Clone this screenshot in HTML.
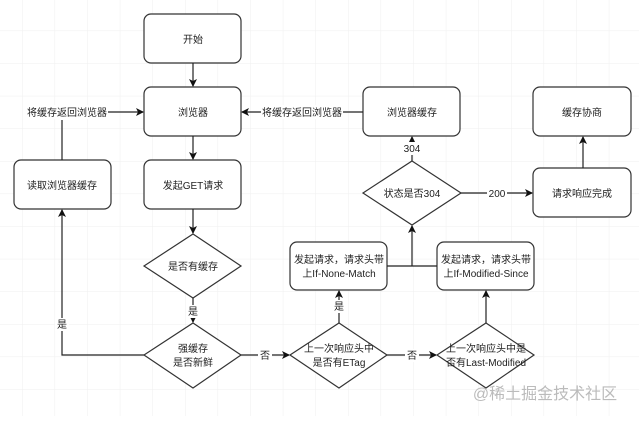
<!DOCTYPE html>
<html><head><meta charset="utf-8"><style>
html,body{margin:0;padding:0;background:#fff;}
svg text{font-family:"Liberation Sans","Noto Sans CJK SC",sans-serif;font-size:10px;fill:#222;}
</style></head><body>
<svg width="639" height="416" viewBox="0 0 639 416" xmlns="http://www.w3.org/2000/svg">
<defs>
<pattern id="g" x="22" y="-2" width="32.6" height="32.6" patternUnits="userSpaceOnUse">
<path d="M0 0V32.6M0 0H32.6" stroke="#efefef" stroke-width="1" fill="none"/>
</pattern>
<marker id="a" markerWidth="8" markerHeight="8" refX="7" refY="4" orient="auto" markerUnits="userSpaceOnUse">
<path d="M0 0L8 4L0 8L2 4Z" fill="#111"/>
</marker>
</defs>
<rect width="639" height="416" fill="url(#g)"/>
<g fill="#fff" stroke="#333" stroke-width="1.2">
<rect x="144" y="14" width="97" height="49" rx="7"/>
<rect x="144" y="87" width="97" height="49" rx="7"/>
<rect x="144" y="160" width="97" height="49" rx="7"/>
<rect x="14" y="160" width="97" height="49" rx="7"/>
<rect x="363" y="87" width="97" height="49" rx="7"/>
<rect x="533" y="87" width="98" height="49" rx="7"/>
<rect x="533" y="168" width="98" height="49" rx="7"/>
<rect x="290" y="242" width="97" height="48" rx="7"/>
<rect x="437" y="242" width="97" height="48" rx="7"/>
<path d="M193 234L241 266L193 298L144 266Z"/>
<path d="M193 323L241 355L193 388L144 355Z"/>
<path d="M339 323L387 355L339 388L290 355Z"/>
<path d="M486 323L534 355L486 388L437 355Z"/>
<path d="M412 161L461 193L412 225L363 193Z"/>
</g>
<g stroke="#222" stroke-width="1.2" fill="none">
<path d="M193 63V86" marker-end="url(#a)"/>
<path d="M193 136V159" marker-end="url(#a)"/>
<path d="M193 209V233" marker-end="url(#a)"/>
<path d="M193 298V322" marker-end="url(#a)"/>
<path d="M62 160V120"/>
<path d="M108 112H143" marker-end="url(#a)"/>
<path d="M144 355H62V210" marker-end="url(#a)"/>
<path d="M241 355H289" marker-end="url(#a)"/>
<path d="M387 355H436" marker-end="url(#a)"/>
<path d="M339 323V291" marker-end="url(#a)"/>
<path d="M486 323V291" marker-end="url(#a)"/>
<path d="M387 266H437M412 266V226" marker-end="url(#a)"/>
<path d="M412 161V137" marker-end="url(#a)"/>
<path d="M363 112H242" marker-end="url(#a)"/>
<path d="M461 193H532" marker-end="url(#a)"/>
<path d="M583 168V137" marker-end="url(#a)"/>
</g>
<g text-anchor="middle">
<text x="193" y="43">开始</text>
<text x="193" y="116">浏览器</text>
<text x="193" y="189">发起GET请求</text>
<text x="62" y="189">读取浏览器缓存</text>
<text x="412" y="116">浏览器缓存</text>
<text x="582" y="116">缓存协商</text>
<text x="582" y="197">请求响应完成</text>
<text x="193" y="270">是否有缓存</text>
<text x="193" y="352">强缓存</text>
<text x="193" y="366">是否新鲜</text>
<text x="339" y="352">上一次响应头中</text>
<text x="339" y="366">是否有ETag</text>
<text x="486" y="352">上一次响应头中是</text>
<text x="486" y="366">否有Last-Modified</text>
<text x="339" y="263">发起请求，请求头带</text>
<text x="339" y="277">上If-None-Match</text>
<text x="486" y="263">发起请求，请求头带</text>
<text x="486" y="277">上If-Modified-Since</text>
<text x="412" y="197">状态是否304</text>
</g>
<g text-anchor="middle">
<rect x="26" y="105" width="82" height="14" fill="#fff"/>
<text x="67" y="116">将缓存返回浏览器</text>
<rect x="261" y="105" width="82" height="14" fill="#fff"/>
<text x="302" y="116">将缓存返回浏览器</text>
<rect x="403" y="142" width="18" height="13" fill="#fff"/>
<text x="412" y="152">304</text>
<rect x="487" y="187" width="20" height="13" fill="#fff"/>
<text x="497" y="197">200</text>
<rect x="186" y="305" width="14" height="13" fill="#fff"/>
<text x="193" y="315">是</text>
<rect x="55" y="318" width="14" height="13" fill="#fff"/>
<text x="62" y="328">是</text>
<rect x="258" y="349" width="14" height="13" fill="#fff"/>
<text x="265" y="359">否</text>
<rect x="405" y="349" width="14" height="13" fill="#fff"/>
<text x="412" y="359">否</text>
<rect x="332" y="300" width="14" height="13" fill="#fff"/>
<text x="339" y="310">是</text>
</g>
<text x="545" y="399" text-anchor="middle" style="font-size:16px;fill:#bbb;">@稀土掘金技术社区</text>
</svg>
</body></html>
